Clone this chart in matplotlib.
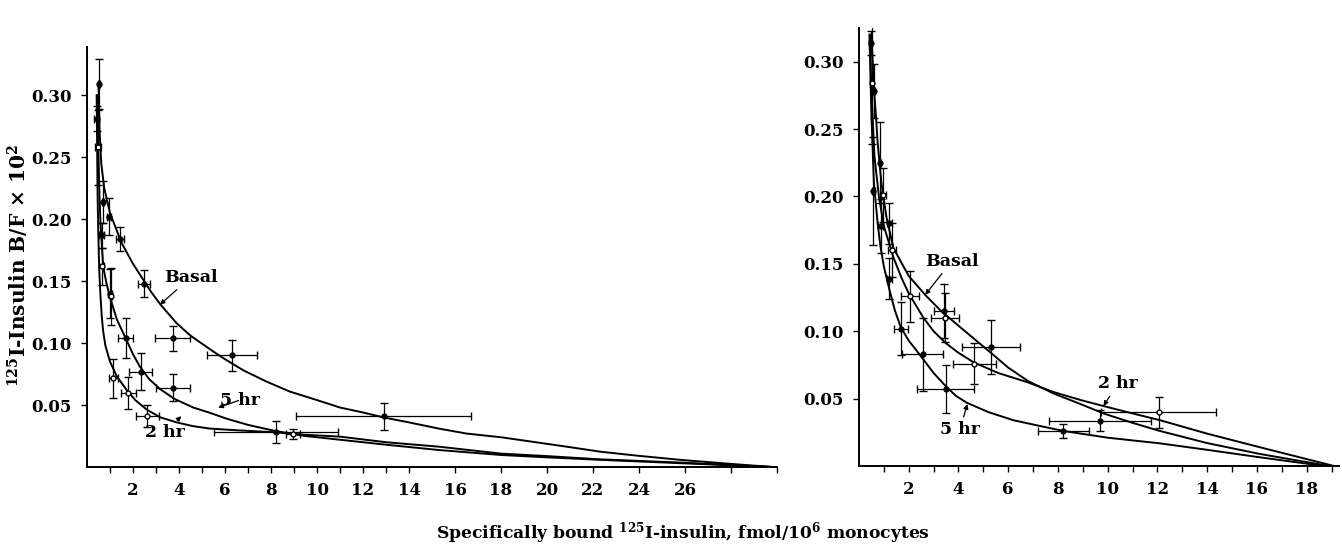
import matplotlib
matplotlib.use("Agg")
import matplotlib.pyplot as plt

plt.rcParams['font.family'] = ['DejaVu Serif']
plt.rcParams['font.weight'] = 'bold'
plt.rcParams['axes.labelweight'] = 'bold'
plt.rcParams['mathtext.fontset'] = 'dejavuserif'

# ---- left panel ----
# fitted curves (x = bound, y = B/F x 10^2)
left_basal_x = [0.5, 0.55, 0.62, 0.75, 1.0, 1.5, 2.0, 2.45, 2.8, 3.2, 3.9, 4.5, 5.35, 6.0, 6.8, 7.8, 8.8, 10.0, 11.0,
                12.0, 12.9, 14.0, 15.3, 16.5, 18.0, 19.7, 21.0, 22.3, 24.0, 25.9, 28.0, 29.8]
left_basal_y = [0.31, 0.27, 0.245, 0.225, 0.205, 0.181, 0.164, 0.151, 0.141, 0.131, 0.116, 0.106, 0.095, 0.087, 0.078,
                0.069, 0.061, 0.054, 0.048, 0.044, 0.040, 0.036, 0.031, 0.027, 0.024, 0.0195, 0.016, 0.0124, 0.009,
                0.0056, 0.0025, 0.0]
left_5hr_x = [0.44, 0.47, 0.5, 0.54, 0.58, 0.64, 0.71, 0.85, 1.0, 1.3, 1.68, 2.0, 2.3, 2.7, 3.17, 3.8, 4.62, 5.3, 6.07,
              7.0, 8.2, 9.5, 11.0, 13.0, 15.3, 18.0, 20.0, 22.3, 25.9, 29.8]
left_5hr_y = [0.30, 0.27, 0.25, 0.22, 0.20, 0.18, 0.161, 0.148, 0.137, 0.119, 0.104, 0.091, 0.081, 0.071, 0.063, 0.055,
              0.048, 0.044, 0.039, 0.034, 0.029, 0.025, 0.022, 0.018, 0.0137, 0.0097, 0.0078, 0.0058, 0.003, 0.0]
left_2hr_x = [0.42, 0.44, 0.46, 0.49, 0.53, 0.58, 0.64, 0.7, 0.8, 1.0, 1.3, 1.73, 2.1, 2.62, 3.2, 3.9, 4.6, 5.35, 6.65,
              8.2, 9.5, 11.0, 13.0, 15.3, 18.0, 20.0, 22.3, 25.9, 29.8]
left_2hr_y = [0.30, 0.26, 0.22, 0.19, 0.16, 0.14, 0.122, 0.11, 0.098, 0.085, 0.073, 0.062, 0.054, 0.046, 0.040, 0.036,
              0.033, 0.031, 0.0295, 0.028, 0.026, 0.0245, 0.020, 0.0164, 0.0108, 0.0088, 0.0062, 0.0035, 0.0]

# measured points with SEM bars
lb_x = [0.52, 0.96, 1.45, 2.47, 3.73, 6.32, 12.9]
lb_y = [0.309, 0.202, 0.184, 0.148, 0.104, 0.090, 0.041]
lb_xe = [0.05, 0.1, 0.17, 0.26, 0.76, 1.09, 3.8]
lb_ye = [0.02, 0.015, 0.01, 0.011, 0.01, 0.0125, 0.011]

l5_x = [0.42, 0.7, 0.64, 1.0, 1.68, 2.33, 3.75, 8.2]
l5_y = [0.281, 0.214, 0.187, 0.140, 0.104, 0.077, 0.064, 0.028]
l5_xe = [0.1, 0.05, 0.1, 0.08, 0.33, 0.5, 0.74, 2.7]
l5_ye = [0.01, 0.017, 0.01, 0.02, 0.016, 0.015, 0.011, 0.009]

l2_x = [0.48, 0.64, 1.04, 1.14, 1.8, 2.62, 8.97]
l2_y = [0.258, 0.162, 0.138, 0.0715, 0.060, 0.041, 0.027]
l2_xe = [0.12, 0.1, 0.05, 0.2, 0.33, 0.49, 0.3]
l2_ye = [0.03, 0.015, 0.023, 0.016, 0.013, 0.009, 0.004]

# ---- right panel ----
right_basal_x = [0.5, 0.55, 0.6, 0.68, 0.75, 0.9, 1.1, 1.38, 1.7, 2.0, 2.66, 3.3, 4.2, 5.3, 6.0, 6.8, 7.8, 8.9, 9.83,
                 11.0, 12.1, 14.0, 16.1, 17.5, 18.9]
right_basal_y = [0.32, 0.30, 0.28, 0.26, 0.24, 0.21, 0.185, 0.162, 0.151, 0.141, 0.127, 0.115, 0.101, 0.084, 0.073,
                 0.063, 0.054, 0.046, 0.039, 0.032, 0.026, 0.017, 0.009, 0.0045, 0.0]
right_2hr_x = [0.45, 0.48, 0.52, 0.62, 0.8, 1.0, 1.38, 1.7, 2.0, 2.59, 3.0, 3.5, 4.0, 4.6, 5.6, 6.8, 7.8, 8.9, 9.83,
               11.0, 12.1, 14.0, 16.1, 17.6, 19.1]
right_2hr_y = [0.32, 0.29, 0.27, 0.23, 0.20, 0.178, 0.155, 0.140, 0.128, 0.110, 0.100, 0.091, 0.084, 0.077, 0.069,
               0.062, 0.055, 0.049, 0.0445, 0.039, 0.034, 0.024, 0.014, 0.007, 0.0]
right_5hr_x = [0.42, 0.46, 0.5, 0.55, 0.6, 0.75, 0.87, 1.0, 1.22, 1.45, 1.68, 2.0, 2.3, 2.59, 3.0, 3.5, 3.9, 4.33,
               5.2, 6.2, 7.2, 8.22, 10.0, 12.1, 14.0, 16.1, 18.7]
right_5hr_y = [0.32, 0.29, 0.26, 0.235, 0.21, 0.18, 0.162, 0.148, 0.131, 0.115, 0.103, 0.093, 0.086, 0.079, 0.069,
               0.059, 0.052, 0.047, 0.040, 0.034, 0.030, 0.026, 0.021, 0.0168, 0.012, 0.0065, 0.0]

rb_x = [0.47, 0.6, 0.85, 1.22, 3.4, 5.3, 9.7]
rb_y = [0.314, 0.278, 0.225, 0.18, 0.115, 0.088, 0.0336]
rb_xe = [0.05, 0.05, 0.05, 0.1, 0.4, 1.17, 2.05]
rb_ye = [0.009, 0.02, 0.03, 0.015, 0.02, 0.02, 0.008]

r2_x = [0.51, 0.98, 1.32, 2.05, 3.47, 4.63, 12.05]
r2_y = [0.284, 0.201, 0.16, 0.126, 0.110, 0.076, 0.040]
r2_xe = [0.05, 0.1, 0.15, 0.35, 0.57, 0.87, 2.3]
r2_ye = [0.045, 0.02, 0.02, 0.019, 0.018, 0.015, 0.0115]

r5_x = [0.58, 0.87, 1.22, 1.68, 2.56, 3.49, 8.22]
r5_y = [0.204, 0.178, 0.139, 0.102, 0.083, 0.057, 0.026]
r5_xe = [0.05, 0.1, 0.1, 0.29, 0.82, 1.15, 1.04]
r5_ye = [0.04, 0.02, 0.015, 0.02, 0.027, 0.018, 0.005]

left_ticks = list(range(1, 15)) + list(range(16, 31, 2))
left_labels = [str(t) if (t % 2 == 0 and t <= 26) else '' for t in left_ticks]
right_ticks = list(range(1, 20))
right_labels = [str(t) if t % 2 == 0 else '' for t in right_ticks]
y_ticks = [0.05, 0.10, 0.15, 0.20, 0.25, 0.30]


def style_axis(ax):
    for s in ['top', 'right']:
        ax.spines[s].set_visible(False)
    for s in ['left', 'bottom']:
        ax.spines[s].set_linewidth(1.4)
    ax.tick_params(direction='out', length=4, width=1, labelsize=12, pad=7)
    ax.set_yticks(y_ticks)
    ax.set_yticklabels(['%.2f' % v for v in y_ticks])


def draw_points(ax, x, y, xe, ye, filled):
    ax.errorbar(x, y, xerr=xe, yerr=ye, fmt='o', ms=3.5,
                mfc='black' if filled else 'white', mec='black', mew=1,
                ecolor='black', elinewidth=0.9, capsize=3, capthick=0.9, zorder=3)


fig = plt.figure(figsize=(13.42, 5.48), dpi=100)

ax1 = fig.add_axes([87 / 1342, 81 / 548, 690 / 1342, 420 / 548])
ax1.plot(left_basal_x, left_basal_y, color='black', lw=1.4)
ax1.plot(left_5hr_x, left_5hr_y, color='black', lw=1.4)
ax1.plot(left_2hr_x, left_2hr_y, color='black', lw=1.4)
draw_points(ax1, lb_x, lb_y, lb_xe, lb_ye, True)
draw_points(ax1, l5_x, l5_y, l5_xe, l5_ye, True)
draw_points(ax1, l2_x, l2_y, l2_xe, l2_ye, False)
ax1.set_xlim(0, 30)
ax1.set_ylim(0, 0.339)
style_axis(ax1)
ax1.set_xticks(left_ticks)
ax1.set_xticklabels(left_labels)
arrow = dict(arrowstyle='-|>', lw=0.9, color='black', mutation_scale=7, shrinkA=1, shrinkB=0)
ax1.annotate('Basal', xy=(3.17, 0.131), xytext=(4.5, 0.153), fontsize=12.5,
             ha='center', va='center', arrowprops=arrow)
ax1.annotate('5 hr', xy=(5.7, 0.048), xytext=(6.65, 0.054), fontsize=12.5,
             ha='center', va='center', arrowprops=arrow)
ax1.annotate('2 hr', xy=(4.1, 0.041), xytext=(3.38, 0.028), fontsize=12.5,
             ha='center', va='center', arrowprops=arrow)
ax1.set_ylabel(r'${}^{\mathbf{125}}$I-Insulin B/F $\times$ 10$^{\mathbf{2}}$', fontsize=14.5)
ax1.yaxis.set_label_coords(-0.081, 0.48)

ax2 = fig.add_axes([859 / 1342, 82 / 548, 480 / 1342, 438 / 548])
ax2.plot(right_basal_x, right_basal_y, color='black', lw=1.4)
ax2.plot(right_2hr_x, right_2hr_y, color='black', lw=1.4)
ax2.plot(right_5hr_x, right_5hr_y, color='black', lw=1.4)
draw_points(ax2, rb_x, rb_y, rb_xe, rb_ye, True)
draw_points(ax2, r2_x, r2_y, r2_xe, r2_ye, False)
draw_points(ax2, r5_x, r5_y, r5_xe, r5_ye, True)
ax2.set_xlim(0, 19.3)
ax2.set_ylim(0, 0.325)
style_axis(ax2)
ax2.set_xticks(right_ticks)
ax2.set_xticklabels(right_labels)
ax2.annotate('Basal', xy=(2.66, 0.127), xytext=(3.73, 0.152), fontsize=12.5,
             ha='center', va='center', arrowprops=arrow)
ax2.annotate('5 hr', xy=(4.36, 0.046), xytext=(4.05, 0.027), fontsize=12.5,
             ha='center', va='center', arrowprops=arrow)
ax2.annotate('2 hr', xy=(9.83, 0.0445), xytext=(10.4, 0.061), fontsize=12.5,
             ha='center', va='center', arrowprops=arrow)

fig.text(0.509, 0.004, r'Specifically bound ${}^{\mathbf{125}}$I-insulin, fmol/10$^{\mathbf{6}}$ monocytes',
         ha='center', va='bottom', fontsize=12.3)

fig.savefig('out.png', dpi=100)
